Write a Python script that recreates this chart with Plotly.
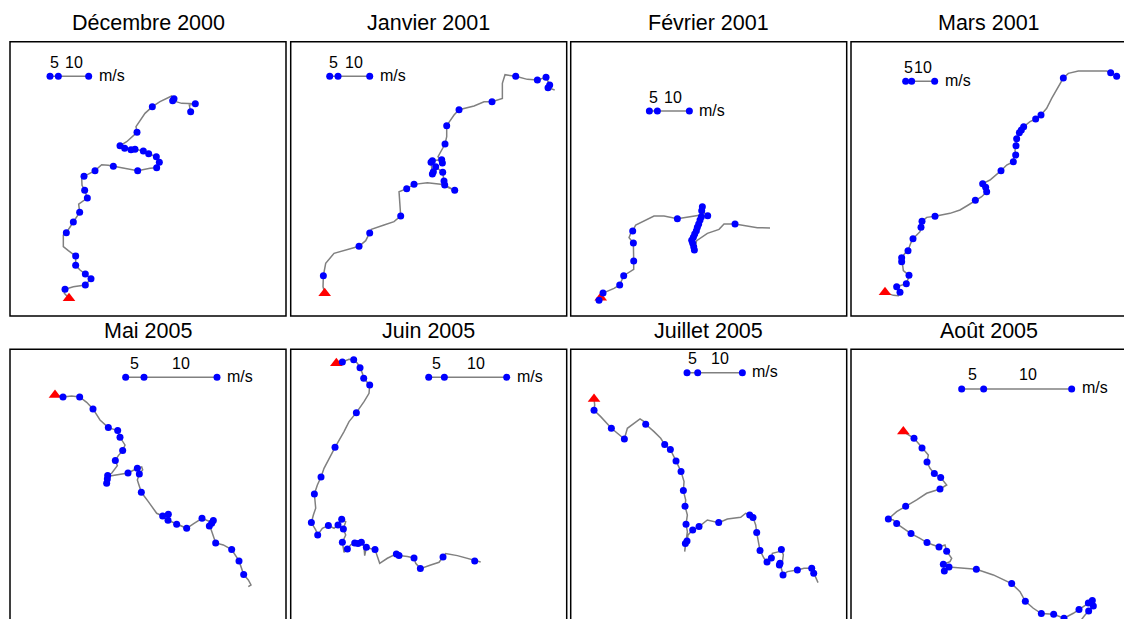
import plotly.graph_objects as go

# ---------------- data (positions in km, east / north of each panel's SW corner) -------------
titles = ["Décembre 2000", "Janvier 2001", "Février 2001", "Mars 2001",
          "Mai 2005", "Juin 2005", "Juillet 2005", "Août 2005"]

dec2000_e = [17.7, 16.3, 16.5, 19.0, 22.6, 24.3, 22.6, 21.0, 19.7, 19.7, 17.5, 16.0, 16.0, 16.9, 19.0,
             20.9, 20.6, 23.2, 22.4, 21.6, 21.5, 22.2, 25.5, 27.5, 29.5, 31.0, 35.0, 38.3, 42.0, 44.0,
             44.8, 43.9, 41.6, 40.0, 37.5, 36.3, 34.4, 33.0, 35.0, 38.1, 37.8, 40.5, 42.7, 45.0, 48.5,
             49.2, 48.8, 51.5, 55.6, 53.8, 54.2]
dec2000_n = [5.3, 6.8, 8.0, 8.8, 9.3, 11.2, 12.6, 13.8, 15.2, 18.0, 19.6, 20.8, 24.3, 25.0, 28.2,
             31.1, 33.6, 35.4, 37.7, 39.2, 41.6, 41.9, 43.6, 45.4, 45.2, 44.9, 44.3, 43.6, 44.3, 44.5,
             46.1, 47.8, 48.7, 49.5, 50.0, 49.9, 50.3, 51.1, 52.3, 55.1, 56.8, 60.8, 62.8, 64.3, 66.0,
             65.2, 64.6, 63.8, 63.7, 63.3, 61.3]
dec2000_day = [0, 0, 1, 0, 1, 1, 1, 0, 1, 1, 0, 0, 0, 1, 1,
               1, 0, 1, 1, 0, 0, 1, 1, 0, 0, 1, 0, 1, 0, 1,
               1, 1, 1, 1, 1, 1, 1, 1, 0, 1, 0, 0, 1, 0, 0,
               1, 1, 0, 1, 0, 1]

jan2001_e = [10.2, 9.7, 9.8, 10.5, 13.0, 17.0, 20.5, 22.5, 23.7, 24.2, 28.0, 31.0, 33.0, 32.7, 32.5,
             34.8, 37.0, 41.0, 45.0, 49.2, 46.2, 46.0, 45.6, 43.5, 42.8, 42.5, 42.1, 42.5, 45.3, 45.5,
             44.2, 46.3, 46.8, 46.8, 49.0, 50.5, 55.0, 58.0, 60.4, 63.5, 63.5, 64.3, 67.5, 71.0, 74.0,
             76.6, 77.7, 77.2, 79.2]
jan2001_n = [6.8, 8.8, 12.1, 15.8, 18.8, 20.0, 20.9, 22.6, 24.9, 26.0, 27.3, 28.3, 30.0, 33.8, 37.3,
             38.2, 39.5, 40.0, 39.5, 37.7, 39.3, 40.5, 43.1, 44.8, 43.3, 42.6, 46.1, 46.6, 46.9, 45.9,
             47.8, 51.6, 53.8, 57.1, 60.3, 61.9, 63.0, 64.3, 64.3, 65.3, 69.8, 72.4, 71.9, 71.0, 70.8,
             71.6, 69.3, 68.5, 67.8]
jan2001_day = [0, 0, 1, 0, 0, 0, 1, 0, 1, 0, 0, 0, 1, 0, 0,
               1, 1, 0, 0, 1, 1, 1, 1, 1, 1, 1, 1, 1, 1, 1,
               0, 1, 0, 1, 0, 1, 0, 0, 1, 0, 0, 0, 1, 0, 1,
               1, 1, 1, 0]

feb2001_e = [9.0, 8.5, 9.7, 13.0, 14.7, 15.9, 18.0, 18.9, 18.9, 18.8, 17.5, 18.0, 18.6, 19.5, 25.0,
             28.0, 32.0, 36.0, 39.0, 39.5, 39.3, 41.1, 39.2, 38.8, 38.4, 38.0, 37.7, 37.2, 36.8, 36.3,
             36.6, 36.9, 37.1, 37.8, 41.0, 44.5, 46.0, 49.3, 53.0, 56.0, 59.8]
feb2001_n = [5.5, 4.7, 6.9, 8.3, 9.3, 12.1, 13.3, 14.0, 16.5, 21.9, 23.5, 24.8, 25.5, 27.3, 30.0,
             30.0, 29.2, 29.8, 30.3, 32.8, 31.6, 30.1, 29.8, 28.8, 27.6, 26.6, 25.6, 24.6, 23.6, 22.7,
             21.8, 20.8, 19.8, 22.6, 24.8, 26.0, 27.6, 27.6, 27.0, 26.5, 26.4]
feb2001_day = [0, 1, 1, 0, 1, 1, 0, 0, 1, 1, 0, 0, 1, 0, 0,
               0, 1, 0, 0, 1, 1, 1, 1, 1, 1, 1, 1, 1, 1, 1,
               1, 1, 1, 0, 0, 0, 0, 1, 0, 0, 0]

mar2001_e = [10.2, 12.7, 14.2, 14.7, 13.7, 15.2, 16.6, 17.2, 17.4, 15.7, 15.2, 15.2, 16.2, 17.1, 17.9,
             18.6, 20.7, 21.0, 21.3, 22.7, 25.2, 29.7, 32.7, 35.2, 37.3, 39.2, 40.7, 40.4, 39.5, 41.7,
             45.0, 46.7, 48.7, 48.9, 49.4, 49.2, 49.5, 49.7, 50.5, 51.1, 51.8, 53.7, 55.4, 57.0, 58.7,
             60.2, 61.7, 63.7, 65.2, 68.2, 76.7, 77.9, 79.7]
mar2001_n = [7.1, 6.2, 6.1, 7.1, 8.8, 9.3, 9.7, 11.3, 12.2, 13.6, 16.3, 17.5, 18.8, 19.6, 21.8,
             23.2, 25.3, 26.6, 28.4, 29.6, 29.9, 30.8, 31.8, 33.3, 34.7, 35.8, 37.3, 38.6, 39.7, 40.8,
             43.6, 45.3, 46.3, 47.6, 48.3, 49.8, 51.1, 53.2, 55.0, 55.8, 56.8, 58.3, 59.1, 60.3, 62.3,
             65.3, 67.8, 71.4, 72.8, 73.5, 73.5, 73.0, 71.9]
mar2001_day = [0, 0, 0, 1, 1, 0, 1, 0, 1, 0, 1, 1, 0, 1, 0,
               1, 0, 1, 1, 0, 1, 0, 0, 0, 1, 0, 1, 1, 1, 0,
               1, 0, 1, 0, 1, 0, 1, 1, 1, 1, 1, 0, 1, 1, 0,
               0, 0, 1, 0, 0, 0, 1, 1]

may2005_e = [13.5, 15.9, 18.5, 20.9, 23.0, 24.9, 27.0, 29.5, 32.3, 33.0, 34.5, 33.8, 32.5, 31.6, 32.2,
             30.5, 29.3, 29.0, 29.2, 30.0, 35.4, 38.2, 39.5, 39.8, 38.8, 38.2, 39.4, 41.5, 44.0, 45.8,
             47.5, 47.4, 50.0, 53.0, 55.0, 57.6, 59.5, 61.0, 60.5, 59.8, 60.2, 61.7, 64.0, 66.5, 68.7,
             70.1, 71.5, 72.3, 71.5]
may2005_n = [68.6, 68.0, 68.3, 68.0, 66.4, 64.4, 61.1, 58.8, 57.9, 55.9, 53.6, 51.9, 50.4, 48.9, 47.4,
             45.1, 44.4, 42.1, 43.4, 44.3, 45.2, 46.6, 47.0, 46.1, 44.9, 43.1, 39.4, 36.6, 33.1, 32.3,
             32.8, 31.0, 29.8, 28.6, 29.9, 31.6, 30.8, 30.9, 30.1, 29.3, 28.6, 24.2, 23.6, 22.2, 18.8,
             14.7, 13.1, 11.6, 11.1]
may2005_day = [0, 1, 0, 1, 0, 1, 0, 1, 1, 1, 0, 1, 0, 1, 0,
               0, 1, 1, 1, 0, 1, 1, 0, 0, 1, 0, 1, 0, 0, 1,
               1, 1, 1, 1, 0, 1, 0, 1, 1, 1, 0, 1, 0, 1, 1,
               1, 0, 0, 0]

jun2005_e = [13.7, 15.5, 17.5, 18.9, 20.0, 20.8, 21.5, 21.9, 23.7, 23.5, 22.0, 19.7, 17.5, 16.0, 13.3,
             11.5, 10.0, 9.1, 8.0, 7.1, 7.5, 6.8, 6.2, 7.5, 8.1, 9.5, 11.3, 13.0, 14.2, 15.3,
             16.5, 15.8, 16.5, 15.5, 16.0, 17.0, 18.0, 19.2, 20.2, 21.2, 22.0, 22.2, 22.7, 23.5, 25.3,
             26.7, 29.0, 31.7, 32.5, 35.0, 37.0, 37.5, 38.9, 42.0, 44.5, 45.7, 46.5, 50.0, 53.0, 55.2,
             57.0]
jun2005_n = [78.1, 78.5, 79.3, 79.2, 78.1, 76.8, 75.1, 73.6, 71.6, 69.1, 66.6, 63.3, 60.6, 57.6, 52.9,
             49.6, 46.6, 44.0, 41.6, 38.9, 34.6, 32.6, 30.3, 28.1, 26.6, 28.6, 29.4, 28.6, 29.6, 31.3,
             30.6, 28.4, 26.6, 24.4, 21.4, 22.4, 23.6, 24.2, 24.0, 24.4, 23.1, 20.4, 22.9, 22.6, 22.2,
             18.1, 19.6, 20.9, 20.4, 20.1, 19.7, 18.1, 16.5, 17.6, 18.4, 20.0, 21.0, 20.4, 19.6, 18.8,
             18.5]
jun2005_day = [0, 1, 0, 1, 0, 1, 0, 1, 1, 0, 0, 1, 0, 0, 1,
               0, 0, 1, 0, 1, 0, 0, 1, 0, 1, 0, 1, 0, 1, 1,
               0, 1, 0, 1, 0, 1, 0, 1, 1, 1, 0, 0, 1, 0, 1,
               0, 0, 1, 1, 0, 1, 0, 1, 0, 0, 1, 0, 0, 0, 1,
               0]

jul2005_e = [7.0, 7.2, 7.0, 9.0, 12.2, 14.5, 16.1, 17.0, 19.0, 20.8, 22.0, 22.5, 25.0, 27.0, 28.2,
             29.9, 31.6, 33.1, 34.0, 33.8, 34.5, 34.3, 35.0, 34.6, 35.0, 34.5, 34.2, 34.4, 34.9, 35.2,
             36.6, 38.5, 41.0, 44.4, 47.0, 51.0, 52.5, 53.7, 54.7, 55.5, 55.8, 56.5, 56.8, 58.0, 58.9,
             60.2, 60.5, 62.5, 63.2, 63.8, 63.5, 62.6, 62.8, 63.7, 65.0, 68.0, 70.0, 72.3, 72.9, 74.2]
jul2005_n = [67.4, 65.6, 64.0, 62.1, 58.6, 56.6, 55.4, 58.6, 60.1, 61.4, 60.6, 59.8, 57.6, 55.6, 53.7,
             52.2, 48.8, 45.6, 42.6, 39.9, 37.1, 35.2, 32.6, 29.8, 27.6, 23.6, 21.6, 24.0, 24.8, 26.6,
             28.1, 29.1, 31.1, 30.3, 31.4, 31.9, 33.1, 32.6, 31.8, 29.6, 27.3, 23.6, 21.9, 19.6, 18.5,
             19.7, 21.1, 21.6, 22.2, 20.6, 18.6, 17.6, 18.1, 14.6, 15.6, 16.1, 16.6, 16.6, 15.1, 12.3]
jul2005_day = [0, 0, 1, 0, 1, 0, 1, 0, 0, 0, 0, 1, 0, 0, 1,
               1, 1, 1, 0, 1, 0, 1, 0, 1, 0, 0, 0, 1, 1, 0,
               1, 1, 0, 1, 0, 0, 0, 1, 1, 0, 1, 0, 1, 0, 1,
               1, 0, 0, 1, 0, 0, 1, 1, 1, 0, 1, 0, 1, 1, 0]

aug2005_e = [15.7, 18.9, 20.2, 21.3, 23.2, 22.8, 23.7, 25.0, 26.9, 28.7, 26.7, 22.7, 19.7, 16.4, 13.7,
             11.2, 12.7, 13.7, 16.2, 18.0, 20.7, 22.8, 24.7, 26.4, 28.2, 28.7, 30.2, 29.7, 27.7, 28.0,
             29.4, 32.7, 37.6, 42.7, 48.2, 50.7, 52.3, 54.7, 57.1, 60.8, 63.9, 66.7, 68.4, 71.2, 72.4,
             72.7, 71.3, 70.2, 68.7]
aug2005_n = [57.6, 55.6, 54.1, 52.7, 50.6, 48.5, 46.6, 45.0, 43.8, 41.6, 40.4, 39.1, 37.1, 35.2, 33.6,
             31.4, 31.1, 30.0, 28.1, 27.0, 25.6, 24.3, 23.6, 23.0, 23.6, 21.7, 19.6, 18.6, 17.8, 15.8,
             17.0, 16.8, 16.3, 14.6, 12.0, 9.6, 6.7, 4.6, 3.0, 2.8, 1.6, 3.1, 4.2, 6.2, 6.9,
             5.3, 3.8, 2.6, 0.6]
aug2005_day = [0, 1, 0, 1, 0, 1, 0, 1, 1, 0, 1, 0, 0, 1, 0,
               1, 0, 1, 0, 1, 0, 1, 0, 1, 0, 1, 0, 0, 1, 1,
               1, 0, 1, 0, 1, 0, 1, 0, 1, 1, 1, 0, 1, 1, 1,
               1, 1, 0, 0]

# wind scale bar of each panel: origin (km) and lengths of the 5 and 10 m/s vectors (km)
scale_e0 = [12.0, 11.7, 23.6, 16.4, 34.7, 41.4, 34.9, 33.2]
scale_n0 = [71.9, 71.9, 61.5, 70.4, 73.9, 73.9, 75.3, 70.4]
scale_d5 = [2.5, 2.5, 2.4, 1.8, 5.5, 4.7, 3.2, 6.6]
scale_d10 = [11.6, 12.0, 12.0, 8.7, 27.4, 23.4, 16.6, 33.0]
scale_labels = ["5", "10"]
unit_label = "m/s"

# ---------------- layout geometry ----------------
W, H = 1124, 619
BOX_E, BOX_N = 82.8, 82.3          # panel extent in km
BOX_W, BOX_H = 276.0, 274.3        # panel extent in px
col_left = [10.0, 290.7, 570.7, 851.0]
row_top = [41.7, 349.3]
FONT = "Liberation Sans, Arial, sans-serif"

tracks = [(dec2000_e, dec2000_n, dec2000_day), (jan2001_e, jan2001_n, jan2001_day),
          (feb2001_e, feb2001_n, feb2001_day), (mar2001_e, mar2001_n, mar2001_day),
          (may2005_e, may2005_n, may2005_day), (jun2005_e, jun2005_n, jun2005_day),
          (jul2005_e, jul2005_n, jul2005_day), (aug2005_e, aug2005_n, aug2005_day)]

fig = go.Figure()
annotations = []
shapes = []
layout_axes = {}

for i, (te, tn, tday) in enumerate(tracks):
    r, c = divmod(i, 4)
    k = "" if i == 0 else str(i + 1)
    xa, ya = "x" + k, "y" + k
    left, top = col_left[c], row_top[r]
    right = min(left + BOX_W, W)
    bottom = min(top + BOX_H, H)
    layout_axes["xaxis" + k] = dict(
        domain=[left / W, right / W], range=[0, (right - left) / BOX_W * BOX_E],
        visible=False, anchor=ya, fixedrange=True)
    layout_axes["yaxis" + k] = dict(
        domain=[1 - bottom / H, 1 - top / H],
        range=[BOX_N - (bottom - top) / BOX_H * BOX_N, BOX_N],
        visible=False, anchor=xa, fixedrange=True)

    # panel frame
    shapes.append(dict(type="rect", xref="paper", yref="paper",
                       x0=left / W, x1=(left + BOX_W) / W,
                       y0=1 - (top + BOX_H) / H, y1=1 - top / H,
                       line=dict(color="black", width=1.5), fillcolor="rgba(0,0,0,0)",
                       layer="above"))

    # track line
    fig.add_trace(go.Scatter(x=te, y=tn, mode="lines", xaxis=xa, yaxis=ya,
                             line=dict(color="#808080", width=1.5), hoverinfo="skip",
                             showlegend=False))
    # start position
    fig.add_trace(go.Scatter(x=[te[0]], y=[tn[0]], mode="markers", xaxis=xa, yaxis=ya,
                             marker=dict(symbol="triangle-up", color="red", size=11,
                                         line=dict(width=0)),
                             showlegend=False))
    # daily positions
    de = [e for e, d in zip(te, tday) if d]
    dn = [n for n, d in zip(tn, tday) if d]
    fig.add_trace(go.Scatter(x=de, y=dn, mode="markers", xaxis=xa, yaxis=ya,
                             marker=dict(color="#0000FF", size=7, line=dict(width=0)),
                             showlegend=False))

    # wind scale
    e0, n0, d5, d10 = scale_e0[i], scale_n0[i], scale_d5[i], scale_d10[i]
    sx = [e0, e0 + d5, e0 + d10]
    fig.add_trace(go.Scatter(x=sx, y=[n0] * 3, mode="lines+markers", xaxis=xa, yaxis=ya,
                             line=dict(color="#808080", width=1.5),
                             marker=dict(color="#0000FF", size=7, line=dict(width=0)),
                             showlegend=False))
    for lab, xm in zip(scale_labels, [(sx[0] + sx[1]) / 2, (sx[1] + sx[2]) / 2]):
        annotations.append(dict(text=lab, x=xm, y=n0, xref=xa, yref=ya, showarrow=False,
                                yshift=14, xanchor="center", yanchor="middle",
                                font=dict(family=FONT, size=16, color="black")))
    annotations.append(dict(text=unit_label, x=sx[2], y=n0, xref=xa, yref=ya, showarrow=False,
                            xshift=8, yshift=1, xanchor="left", yanchor="middle",
                            font=dict(family=FONT, size=16, color="black")))

    # panel title
    annotations.append(dict(text=titles[i], x=(left + BOX_W / 2) / W, y=1 - (top - 18.5) / H,
                            xref="paper", yref="paper", showarrow=False,
                            xanchor="center", yanchor="middle",
                            font=dict(family=FONT, size=21.5, color="black")))

fig.update_layout(width=W, height=H, margin=dict(l=0, r=0, t=0, b=0),
                  paper_bgcolor="white", plot_bgcolor="white",
                  annotations=annotations, shapes=shapes, showlegend=False,
                  **layout_axes)

fig.write_html("out.html")
